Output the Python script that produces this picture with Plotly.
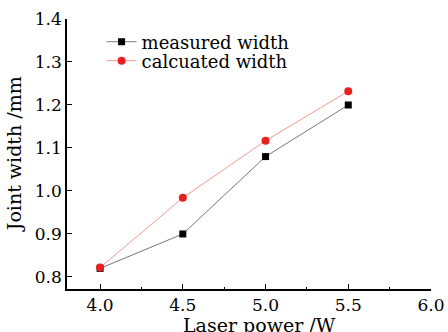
import plotly.graph_objects as go

power = [4.0, 4.5, 5.0, 5.5]
measured = [0.82, 0.90, 1.08, 1.20]
calculated = [0.822, 0.984, 1.117, 1.232]

font = "DejaVu Serif"
fig = go.Figure()
fig.add_trace(go.Scatter(x=power, y=measured, mode="lines+markers", name="measured width",
                         line=dict(color="#555555", width=0.8),
                         marker=dict(symbol="square", size=7, color="black"), legend="legend"))
fig.add_trace(go.Scatter(x=power, y=calculated, mode="lines+markers", name="calcuated width",
                         line=dict(color="#f08070", width=0.8),
                         marker=dict(symbol="circle", size=8, color="#e82020"), legend="legend2"))

leg = dict(xanchor="left", yanchor="middle", bgcolor="rgba(0,0,0,0)",
           font=dict(size=18), itemwidth=30, borderwidth=0)
fig.update_layout(
    width=448, height=332, margin=dict(l=67, r=17, t=19, b=43),
    paper_bgcolor="white", plot_bgcolor="white",
    font=dict(family=font, size=17, color="black"),
    showlegend=True,
    legend=dict(x=0.095, y=(289 - 42) / 270, **leg),
    legend2=dict(x=0.095, y=(289 - 61) / 270, **leg),
    xaxis=dict(range=[3.8, 6.0], tickvals=[4.0, 4.5, 5.0, 5.5, 6.0], ticktext=["4.0", "4.5", "5.0", "5.5", "6.0"],
               showline=True, linecolor="black", linewidth=1.5, ticks="inside", ticklen=5,
               tickwidth=1.2, tickcolor="black", showgrid=False, zeroline=False, automargin=False,
               minor=dict(tickvals=[4.25, 4.75, 5.25, 5.75], ticks="inside", ticklen=2, tickcolor="black"),
               ),
    yaxis=dict(range=[0.772, 1.4], tickvals=[0.8, 0.9, 1.0, 1.1, 1.2, 1.3, 1.4],
               ticktext=["0.8", "0.9", "1.0", "1.1", "1.2", "1.3", "1.4"],
               showline=True, linecolor="black", linewidth=1.5, ticks="inside", ticklen=5,
               tickwidth=1.2, tickcolor="black", showgrid=False, zeroline=False, automargin=False),
    annotations=[
        dict(text="Laser power /W", xref="paper", yref="paper", x=0.53, y=-0.085,
             xanchor="center", yanchor="top", showarrow=False, font=dict(size=19)),
        dict(text="Joint width /mm", xref="paper", yref="paper", x=-0.145, y=0.5,
             xanchor="center", yanchor="middle", textangle=-90, showarrow=False, font=dict(size=19)),
    ],
)
fig.write_html("out.html")
